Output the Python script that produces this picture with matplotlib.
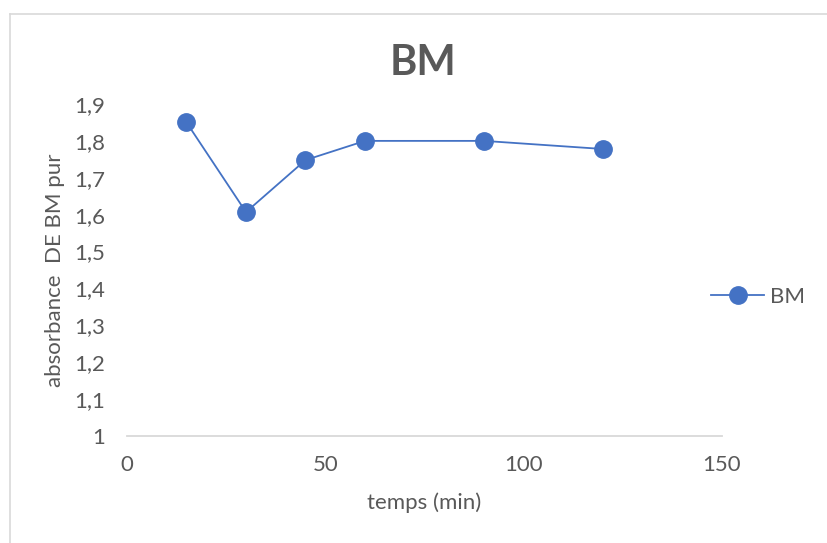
import matplotlib.pyplot as plt
from matplotlib.lines import Line2D
from matplotlib.ticker import FuncFormatter

# data
temps = [15, 30, 45, 60, 90, 120]
absorbance = [1.85, 1.607, 1.748, 1.80, 1.80, 1.778]
x_ticks = [0, 50, 100, 150]
y_ticks = [1.0, 1.1, 1.2, 1.3, 1.4, 1.5, 1.6, 1.7, 1.8, 1.9]

plt.rcParams['font.family'] = ['Lato', 'DejaVu Sans']
TXT = '#595959'
BLUE = '#4472C4'
FS = 16

fig = plt.figure(figsize=(8.27, 5.43), dpi=100)
ax = fig.add_axes([127 / 827, 1 - 436 / 543, (722 - 127) / 827, (436 - 104) / 543])

ax.plot(temps, absorbance, color=BLUE, lw=1.3, marker='o', ms=12.5,
        markerfacecolor=BLUE, markeredgecolor=BLUE, label='BM', zorder=3)

ax.set_xlim(0, 150)
ax.set_ylim(1, 1.9)
ax.set_xticks(x_ticks)
ax.set_yticks(y_ticks)
ax.yaxis.set_major_formatter(FuncFormatter(
    lambda v, p: ('%g' % round(v, 1)).replace('.', ',')))

for s in ['top', 'right', 'left']:
    ax.spines[s].set_visible(False)
ax.spines['bottom'].set_color('#D9D9D9')
ax.spines['bottom'].set_linewidth(1.3)
ax.tick_params(length=0, labelsize=FS, colors=TXT)
ax.tick_params(axis='x', pad=14)
ax.tick_params(axis='y', pad=16)

ax.set_xlabel('temps (min)', fontsize=FS, color=TXT, labelpad=12)
ax.set_ylabel('absorbance  DE BM pur', fontsize=FS, color=TXT, labelpad=6)
fig.text(423 / 827, 1 - 63 / 543, 'BM', fontsize=30, fontweight='bold',
         color=TXT, ha='center', va='center')

leg = fig.legend(loc='center left', bbox_to_anchor=(711 / 827, 1 - 297 / 543),
                 frameon=False, fontsize=FS, handlelength=2.4, handletextpad=0.25,
                 borderpad=0, borderaxespad=0, markerscale=1.0)
for t in leg.get_texts():
    t.set_color(TXT)

# outer chart border (runs off right and bottom)
fig.add_artist(Line2D([10 / 827, 10 / 827], [0, 1 - 14 / 543],
                      color='#D9D9D9', lw=1.2, transform=fig.transFigure))
fig.add_artist(Line2D([10 / 827, 1], [1 - 14 / 543, 1 - 14 / 543],
                      color='#D9D9D9', lw=1.2, transform=fig.transFigure))

fig.savefig('out.png', dpi=100)
